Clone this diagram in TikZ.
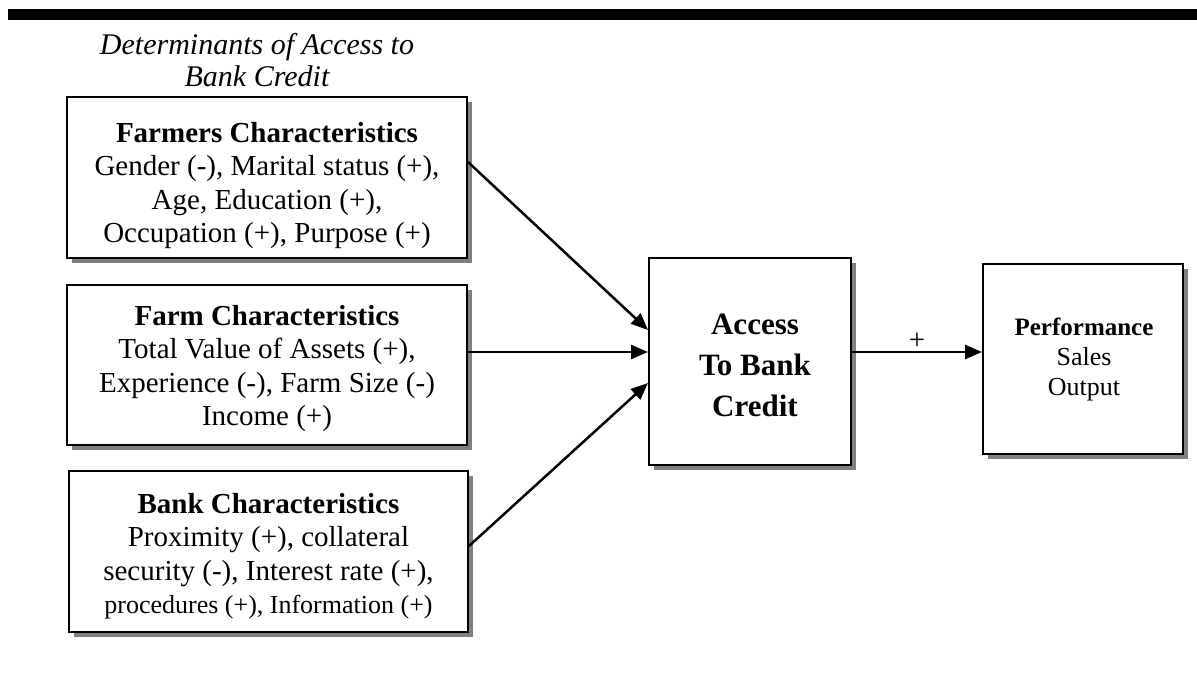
\documentclass[tikz,border=0pt]{standalone}
\usepackage{fontspec}
\setmainfont{Liberation Serif}
\usetikzlibrary{shadows,arrows.meta,calc}
\begin{document}
\begin{tikzpicture}[x=1pt,y=-1pt,
  box/.style={draw=black, line width=2pt, fill=white, inner sep=0pt,
    drop shadow={shadow xshift=5pt, shadow yshift=-5pt, opacity=1, fill=black!50}},
  txt/.style={align=center, inner sep=0pt, anchor=north, font=\fontsize{29}{33.5}\selectfont},
  arr/.style={line width=2.5pt, -{Triangle[length=17pt,width=14pt]}}
]
\useasboundingbox (0,0) rectangle (1197,674);
% top rule
\fill[black] (8,9.5) rectangle (1197,20);
% title
\node[txt, font=\itshape\fontsize{30}{32}\selectfont] (title) at (257,33.5)
  {Determinants of Access to\\Bank Credit};
% boxes
\node[box, minimum width=400pt, minimum height=161pt] (b1) at (267,177.5) {};
\node[box, minimum width=400pt, minimum height=160pt] (b2) at (267,365) {};
\node[box, minimum width=399pt, minimum height=161pt] (b3) at (268.5,551.5) {};
\node[box, minimum width=202pt, minimum height=207pt] (acc) at (750,361.5) {};
\node[box, minimum width=200pt, minimum height=190pt] (perf) at (1083,359) {};
% texts
\node[txt] (t1) at (267,122)
  {\textbf{Farmers Characteristics}\\Gender (-), Marital status (+),\\Age, Education (+),\\Occupation (+), Purpose (+)};
\node[txt] (t2) at (267,305)
  {\textbf{Farm Characteristics}\\Total Value of Assets (+),\\Experience (-), Farm Size (-)\\Income (+)};
\node[txt] (t3) at (268.5,493)
  {\textbf{Bank Characteristics}\\Proximity (+), collateral\\security (-), Interest rate (+),\\{\fontsize{26}{33.5}\selectfont procedures (+), Information (+)}};
\node[txt, font=\bfseries\fontsize{31}{41}\selectfont] (ta) at (755,314)
  {Access\\To Bank\\Credit};
\node[txt, font=\fontsize{26}{30}\selectfont] (tp) at (1084,318)
  {{\bfseries\fontsize{25}{30}\selectfont Performance}\\Sales\\Output};
% connectors
\draw[arr] ([yshift=15.5pt]b1.east) -- ([yshift=31.5pt]acc.west);
\draw[arr] ([yshift=13pt]b2.east) -- ([yshift=9.5pt]acc.west);
\draw[arr] ([yshift=5.5pt]b3.east) -- ([yshift=-21.5pt]acc.west);
\draw[arr] ([yshift=9.5pt]acc.east) -- ([yshift=7pt]perf.west)
  node[pos=0.5, above=0pt, font=\fontsize{29}{34}\selectfont, inner sep=1pt] (plus) {+};
\end{tikzpicture}
\end{document}
